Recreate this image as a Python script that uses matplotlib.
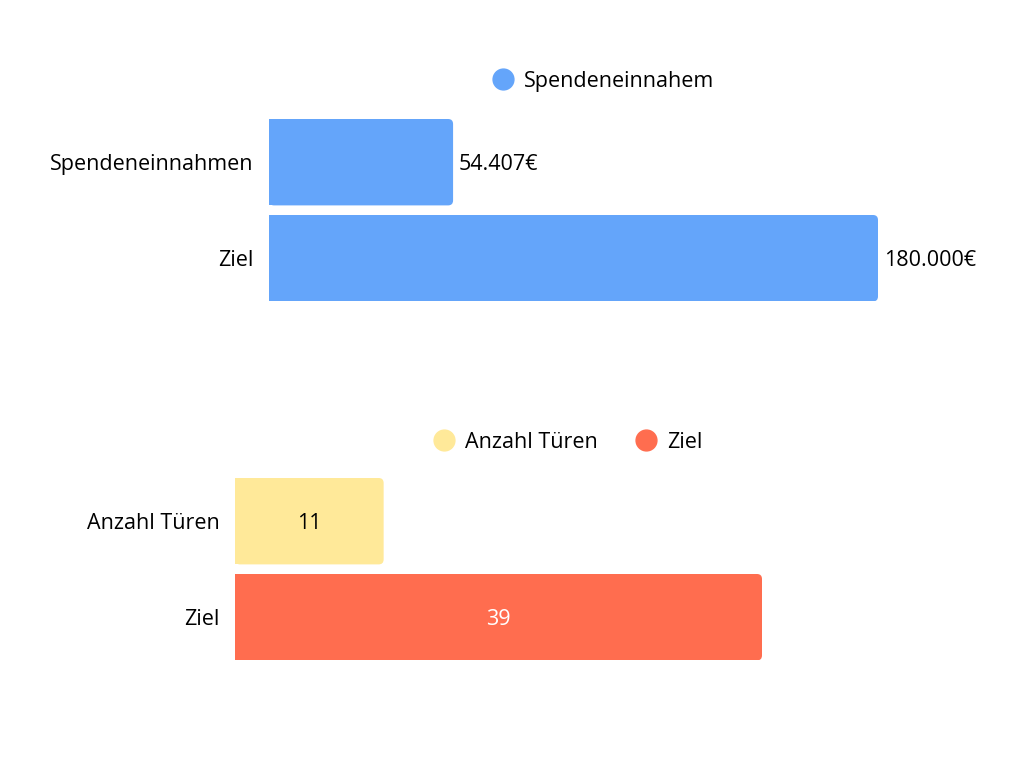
import matplotlib
matplotlib.use("Agg")
import matplotlib.pyplot as plt
from matplotlib.patches import FancyBboxPatch, Rectangle
from matplotlib.lines import Line2D

plt.rcParams['font.family'] = ['Open Sans', 'DejaVu Sans']

# Daten
spenden_kategorien = ["Spendeneinnahmen", "Ziel"]
spenden_werte = [54407, 180000]
spenden_legende = "Spendeneinnahem"

tueren_kategorien = ["Anzahl Türen", "Ziel"]
tueren_werte = [11, 39]
tueren_legende = ["Anzahl Türen", "Ziel"]

blau = "#64A5FA"
gelb = "#FFE999"
rot = "#FF6D4F"

W, H = 1024, 768
FS = 15.5


def runde_balken(ax, bars, farben, radius_px=5):
    # rechte Ecken abrunden, linke bleiben eckig
    fig = ax.figure
    fig.canvas.draw()
    x0, x1 = ax.get_xlim()
    y0, y1 = ax.get_ylim()
    bb = ax.get_window_extent()
    xpp = (x1 - x0) / bb.width
    ypp = abs(y1 - y0) / bb.height
    r = radius_px * xpp
    for bar, farbe in zip(bars, farben):
        x, y = bar.get_x(), bar.get_y()
        w, h = bar.get_width(), bar.get_height()
        bar.set_visible(False)
        ax.add_patch(FancyBboxPatch((x, y), w, h,
                                    boxstyle=f"round,pad=0,rounding_size={r}",
                                    mutation_aspect=ypp / xpp,
                                    facecolor=farbe, edgecolor="none"))
        ax.add_patch(Rectangle((x, y), w / 2, h, facecolor=farbe, edgecolor="none"))


def setup_ax(ax):
    for s in ax.spines.values():
        s.set_visible(False)
    ax.set_xticks([])
    ax.tick_params(axis="y", length=0, pad=11, labelsize=FS)
    ax.set_ylim(1.45, -0.45)


fig = plt.figure(figsize=(W / 100, H / 100), dpi=100)

# oben: Spenden
ax1 = fig.add_axes([269 / W, 1 - 301.4 / H, 609 / W, 182.4 / H])
pos = list(range(len(spenden_kategorien)))
b1 = ax1.barh(pos, spenden_werte, height=0.9, color=blau)
ax1.set_yticks(pos)
ax1.set_yticklabels(spenden_kategorien)
ax1.set_xlim(0, 180000)
setup_ax(ax1)
runde_balken(ax1, b1, [blau, blau])
for p, v in zip(pos, spenden_werte):
    txt = f"{v:,}".replace(",", ".") + "€"
    ax1.annotate(txt, (v, p), xytext=(4, -1.5), textcoords="offset points",
                 va="center", ha="left", fontsize=FS)

fig.legend(handles=[Line2D([], [], marker="o", ls="", markersize=15,
                           color=blau, label=spenden_legende)],
           loc="center", bbox_to_anchor=(603 / W, 1 - 81 / H), frameon=False,
           fontsize=FS, handlelength=1.0, handletextpad=0.48, borderpad=0)

# unten: Türen
ax2 = fig.add_axes([235 / W, 1 - 660.4 / H, 527 / W, 182.4 / H])
pos2 = list(range(len(tueren_kategorien)))
b2 = ax2.barh(pos2, tueren_werte, height=0.9, color=[gelb, rot])
ax2.set_yticks(pos2)
ax2.set_yticklabels(tueren_kategorien)
ax2.set_xlim(0, 39)
setup_ax(ax2)
runde_balken(ax2, b2, [gelb, rot])
for p, v, c in zip(pos2, tueren_werte, ["black", "white"]):
    ax2.annotate(str(v), (v / 2, p), xytext=(0, -1.5), textcoords="offset points",
                 ha="center", va="center", fontsize=FS, color=c)

fig.legend(handles=[Line2D([], [], marker="o", ls="", markersize=15, color=c, label=l)
                    for c, l in zip([gelb, rot], tueren_legende)],
           loc="center", bbox_to_anchor=(568 / W, 1 - 442 / H), ncol=2, frameon=False,
           fontsize=FS, handlelength=1.0, handletextpad=0.48, columnspacing=1.75,
           borderpad=0)

fig.savefig("out.png", dpi=100, facecolor="white")
